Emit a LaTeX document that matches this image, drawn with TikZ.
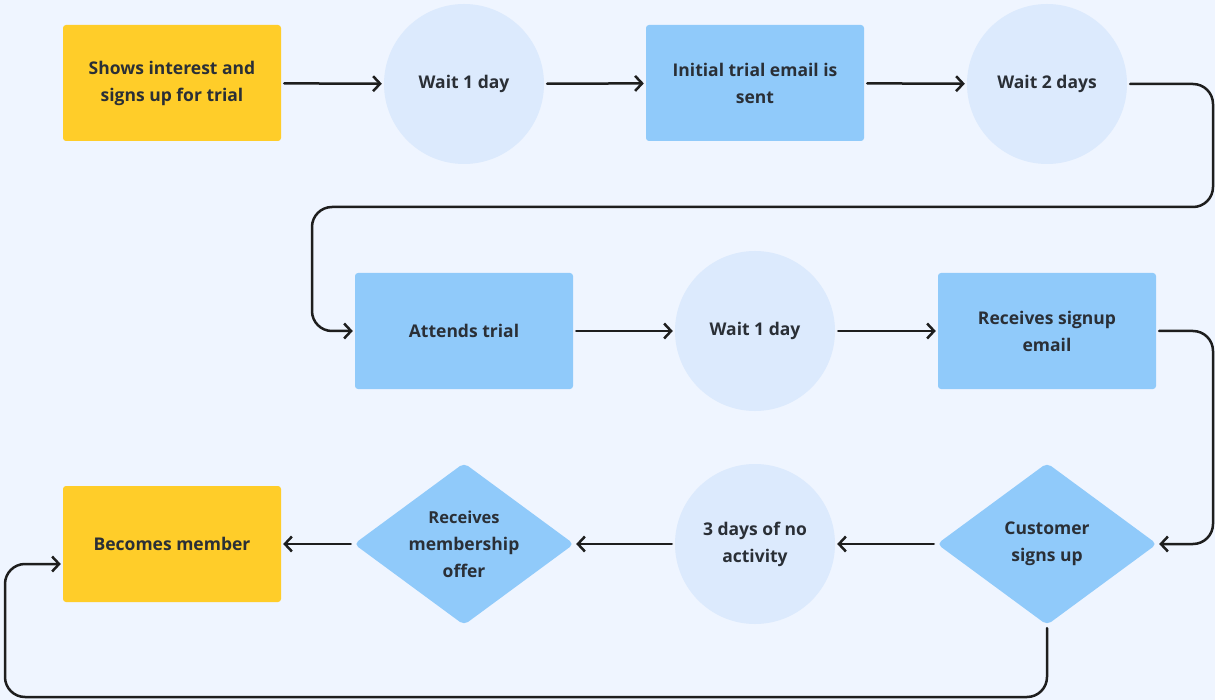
\documentclass[tikz,border=0pt]{standalone}
\usepackage{fontspec}
\setmainfont{Open Sans}
\usetikzlibrary{shapes.geometric,arrows.meta}
\definecolor{bgc}{HTML}{EFF5FF}
\definecolor{yel}{HTML}{FFCD29}
\definecolor{blu}{HTML}{90CAFA}
\definecolor{lcirc}{HTML}{DCEAFD}
\definecolor{ink}{HTML}{1E1E1E}
\definecolor{txt}{HTML}{2A2F36}
\tikzset{
  lbl/.style={font=\fontsize{17.5}{27}\selectfont\bfseries, text=txt, align=center},
  ybox/.style={lbl, fill=yel, rounded corners=3pt, minimum width=218pt, minimum height=116pt, inner sep=0pt},
  bbox/.style={lbl, fill=blu, rounded corners=3pt, minimum width=218pt, minimum height=116pt, inner sep=0pt},
  wcirc/.style={lbl, fill=lcirc, circle, minimum size=160pt, inner sep=0pt},
  dmd/.style={lbl, fill=blu, diamond, minimum width=220pt, minimum height=162pt, inner sep=-20pt, rounded corners=5pt},
  conn/.style={draw=ink, line width=2.5pt, line cap=round, line join=round,
    -{Straight Barb[length=7pt,width=15pt,line width=2.5pt]}, shorten <=3pt, shorten >=2pt},
}
\begin{document}
\begin{tikzpicture}[x=1pt,y=-1pt]
\fill[bgc] (0,0) rectangle (1215,700);
\useasboundingbox (0,0) rectangle (1215,700);
% row 1
\node[ybox] (start) at (172,83) {Shows interest and\\signs up for trial};
\node[wcirc] (w1) at (464,84) {Wait 1 day};
\node[bbox] (email) at (755,83) {Initial trial email is\\sent};
\node[wcirc] (w2) at (1047,84) {Wait 2 days};
% row 2
\node[bbox] (trial) at (464,331) {Attends trial};
\node[wcirc] (w3) at (755,331) {Wait 1 day};
\node[bbox] (signup) at (1047,331) {Receives signup\\email};
% row 3
\node[dmd] (cust) at (1047,544) {Customer\\signs up};
\node[wcirc] (idle) at (755,544) {3 days of no\\activity};
\node[dmd] (offer) at (464,544) {\fontsize{16.5}{24}\selectfont Receives\\membership\\offer};
\node[ybox] (member) at (172,544) {Becomes member};
% connectors
\draw[conn] (start) -- (w1);
\draw[conn] (w1) -- (email);
\draw[conn] (email) -- (w2);
\draw[conn, rounded corners=20pt] (w2) -- (1213,84) -- (1213,207) -- (312,207) |- (trial);
\draw[conn] (trial) -- (w3);
\draw[conn] (w3) -- (signup);
\draw[conn, rounded corners=20pt] (signup) -- (1213,331) |- (cust);
\draw[conn] (cust) -- (idle);
\draw[conn] (idle) -- (offer);
\draw[conn] (offer) -- (member);
\draw[conn, rounded corners=20pt] (cust.south) -- (1047,697) -- (5,697) |- ([yshift=-20pt]member.west);
\end{tikzpicture}
\end{document}
